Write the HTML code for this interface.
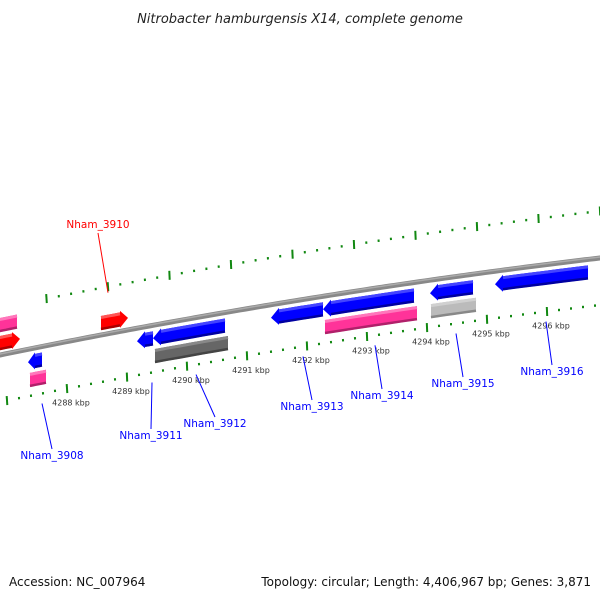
<!DOCTYPE html>
<html><head><meta charset="utf-8"><style>
body{margin:0;background:#fff;}
svg{display:block;}
</style></head><body>
<svg id="chart" width="600" height="600" viewBox="0 0 600 600" xmlns="http://www.w3.org/2000/svg">
<text x="300" y="23" text-anchor="middle" font-family="DejaVu Sans, Liberation Sans, sans-serif" font-style="italic" font-size="13" fill="#222">Nitrobacter hamburgensis X14, complete genome</text>
<text x="9" y="586" font-family="DejaVu Sans, Liberation Sans, sans-serif" font-size="12" fill="#111">Accession: NC_007964</text>
<text x="591" y="586" text-anchor="end" font-family="DejaVu Sans, Liberation Sans, sans-serif" font-size="12" fill="#111">Topology: circular; Length: 4,406,967 bp; Genes: 3,871</text>
<g id="layer"></g>
</svg>
<script>
// data
const lowerKbp = [4287, 4288, 4289, 4290, 4291, 4292, 4293, 4294, 4295, 4296, 4297];
const upperMajors = [-1, 0, 1, 2, 3, 4, 5, 6, 7, 8];
const geneStarts = [-5, 101, -5, 30, 28, 137, 153, 155, 271, 323, 325, 431, 430, 495];
const geneEnds   = [17, 128, 20, 46, 42, 153, 225, 228, 323, 414, 417, 476, 473, 588];
const geneRows   = [-2, -1, -1, 2, 1, 1, 1, 2, 1, 1, 2, 2, 1, 1];
const geneDirs   = [0, 1, 1, 0, -1, -1, -1, 0, -1, -1, 0, 0, -1, -1];
const geneColors = ["#ff3399","#ff0000","#ff0000","#ff3399","#0000ff","#0000ff","#0000ff","#666666","#0000ff","#0000ff","#ff3399","#bbbbbb","#0000ff","#0000ff"];
const labelNames = ["Nham_3910","Nham_3908","Nham_3911","Nham_3912","Nham_3913","Nham_3914","Nham_3915","Nham_3916"];
const labelAnchorX = [108, 42, 152, 196, 303, 375, 456, 546];
const labelTextX = [98, 52, 151, 215, 312, 382, 463, 552];
const labelTextY = [228, 459, 439, 427, 410, 399, 387, 375];

const NS = "http://www.w3.org/2000/svg";
const layer = document.getElementById('layer');
function bb(x){ return 355 - 0.205*x + 0.0000722*x*x; }
function slope(x){ return -0.205 + 2*0.0000722*x; }
function mk(tag, attrs){ const e=document.createElementNS(NS,tag); for(const k in attrs) e.setAttribute(k,attrs[k]); layer.appendChild(e); return e; }
function rowOff(r){ return r===-2?-30:r===-1?-12:r===1?13:31; }
function lighten(c){ return {"#ff3399":"#ff77bb","#ff0000":"#ff5555","#0000ff":"#4444ff","#666666":"#888888","#bbbbbb":"#d0d0d0"}[c]||c; }
function darken(c){ return {"#ff3399":"#b0206a","#ff0000":"#aa0000","#0000ff":"#0000a0","#666666":"#444444","#bbbbbb":"#888888"}[c]||c; }

// backbone
let d="", d2="";
for(let x=-5;x<=605;x+=5){ d+=(x===-5?"M":"L")+x+","+bb(x).toFixed(2); }
let bbPath = mk('path',{d:d,stroke:"#888",'stroke-width':5,fill:"none"});


let bbHi = mk('path',{d:d,stroke:"#aaa",'stroke-width':1.5,fill:"none",transform:"translate(0,-1)"});



function tick(x, off, major, name){
  const y=bb(x)+off; const s=slope(x); const n=Math.hypot(1,s);
  const len = major?4.5:1.2;
  const nx=-s/n*len*0.3, ny=len;
  const t=mk('line',{x1:(x-nx).toFixed(1),y1:(y-ny).toFixed(1),x2:(x+nx).toFixed(1),y2:(y+ny).toFixed(1),stroke:"#118811",'stroke-width':2});
  
  
}
// lower scale
function lx(k){ return 67 + 60*(k-4288); }
lowerKbp.forEach(k=>{
  const x=lx(k);
  tick(x,47,true,'lower-major-tick');
  for(let i=1;i<5;i++){ const xm=x+12*i; if(xm<605) tick(xm,47,false,'lower-minor-tick'); }
  if(k>=4288 && k<=4296){
    const t=mk('text',{x:x+4,y:(bb(x)+47+17).toFixed(1),'font-family':"DejaVu Sans, Liberation Sans, sans-serif",'font-size':8,fill:"#333",'text-anchor':'middle'});
    t.textContent=k+" kbp";
    
    
  }
});
// upper scale
function ux(k){ return 108 + 61.5*k; }
upperMajors.forEach(k=>{
  const x=ux(k);
  tick(x,-47,true,'upper-major-tick');
  for(let i=1;i<5;i++){ const xm=x+12.3*i; if(xm<605) tick(xm,-47,false,'upper-minor-tick'); }
});

// genes
function pts(x0,x1,off,dy){ const a=[]; const N=6; for(let i=0;i<=N;i++){ const x=x0+(x1-x0)*i/N; a.push([x,bb(x)+off+dy]); } return a; }
geneStarts.forEach((x0,i)=>{
  const x1=geneEnds[i], off=rowOff(geneRows[i]), dir=geneDirs[i], col=geneColors[i];
  const h=7, head=Math.min(8,(x1-x0)*0.5);
  let a0=x0, a1=x1;
  if(dir===1) a1=x1-head; if(dir===-1) a0=x0+head;
  const top=pts(a0,a1,off,-h), bot=pts(a0,a1,off,h).reverse();
  let poly=[];
  if(dir===-1){ poly.push([x0,bb(x0)+off]); poly.push([a0,bb(a0)+off-h-1.5]); }
  poly=poly.concat(top);
  if(dir===1){ poly.push([a1,bb(a1)+off-h-1.5]); poly.push([x1,bb(x1)+off]); poly.push([a1,bb(a1)+off+h+1.5]); }
  poly=poly.concat(bot);
  if(dir===-1){ poly.push([a0,bb(a0)+off+h+1.5]); }
  const g=mk('polygon',{points:poly.map(p=>p[0].toFixed(1)+","+p[1].toFixed(1)).join(" "),fill:col});
  
  
  const hl=pts(a0,a1,off,-h+1.5);
  const hlp=mk('polyline',{points:hl.map(p=>p[0].toFixed(1)+","+p[1].toFixed(1)).join(" "),stroke:lighten(col),'stroke-width':3,fill:"none"});
  
  
  const sh=pts(a0,a1,off,h-1);
  const shp=mk('polyline',{points:sh.map(p=>p[0].toFixed(1)+","+p[1].toFixed(1)).join(" "),stroke:darken(col),'stroke-width':2.5,fill:"none"});
  
  
});

// labels
labelNames.forEach((nm,i)=>{
  const red = i===0;
  const ax=labelAnchorX[i];
  const ay = red ? bb(ax)-47+6 : bb(ax)+47+10;
  const ty = labelTextY[i];
  const ly = red ? ty+5 : ty-10;
  const ln=mk('line',{x1:ax,y1:ay.toFixed(1),x2:labelTextX[i],y2:ly,stroke:red?"#ff0000":"#0000ff",'stroke-width':1});
  
  
  const t=mk('text',{x:labelTextX[i],y:ty,'text-anchor':'middle','font-family':"DejaVu Sans, Liberation Sans, sans-serif",'font-size':10.5,fill:red?"#ff0000":"#0000ff"});
  t.textContent=nm;
  
  
});
</script>
</body></html>
